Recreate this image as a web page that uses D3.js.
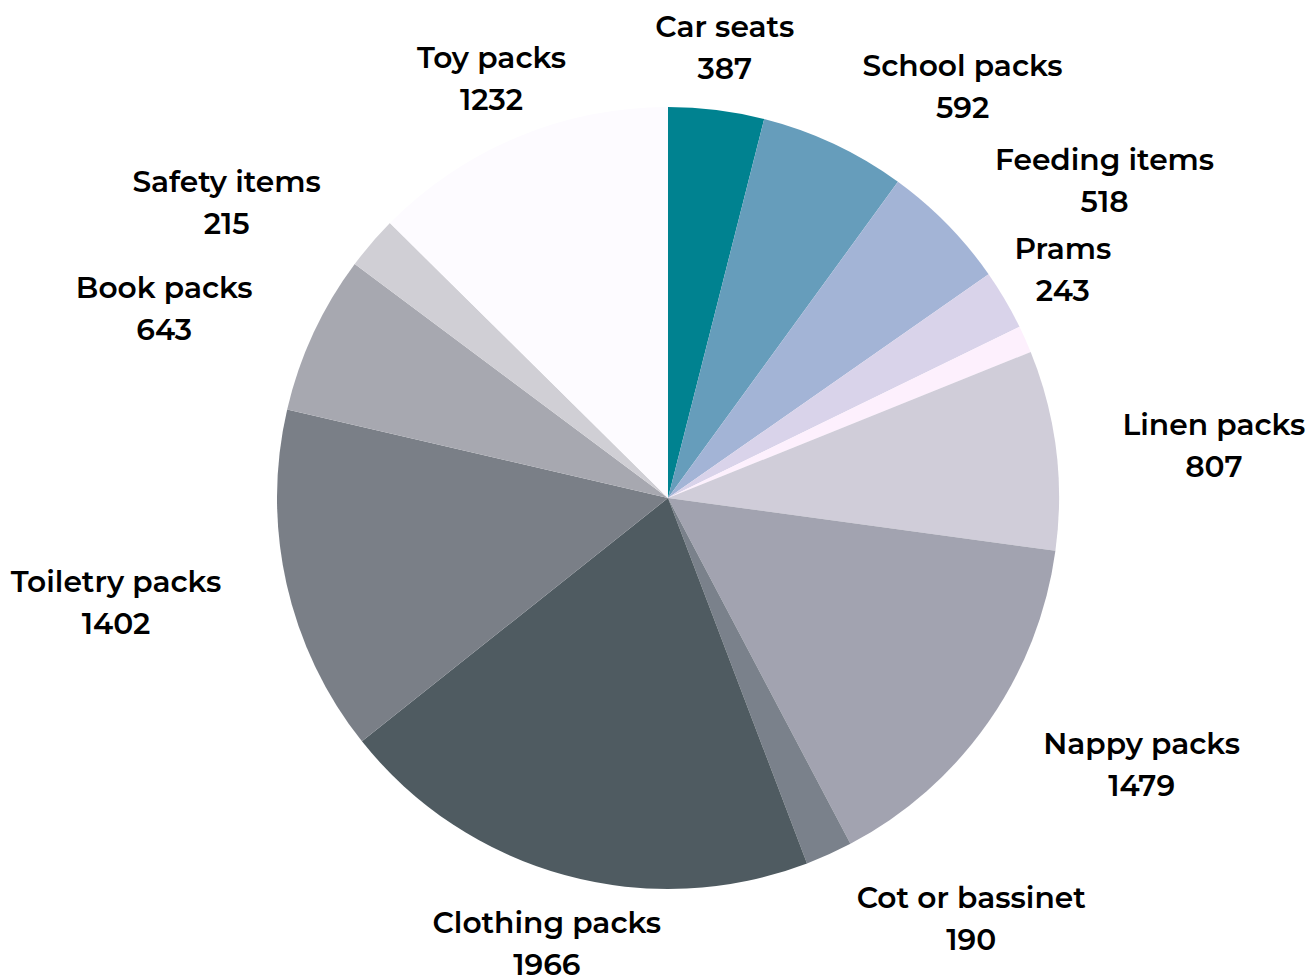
<!DOCTYPE html>
<html><head><meta charset="utf-8">
<script src="https://cdn.jsdelivr.net/npm/d3@7"></script>
<style>html,body{margin:0;padding:0;background:#fff;}</style>
</head><body>
<svg id="chart" width="1316" height="976"></svg>
<script>
const categories = ["Car seats","School packs","Feeding items","Prams","","Linen packs","Nappy packs","Cot or bassinet","Clothing packs","Toiletry packs","Book packs","Safety items","Toy packs"];
const values = [387,592,518,243,110,807,1479,190,1966,1402,643,215,1232];
const colors = ["#008290","#669dbb","#a3b4d6","#d9d3ea","#fdf0fd","#d0cdd9","#a2a3b0","#7a818b","#4f5b61","#7a7f87","#a7a8b0","#d0cfd5","#fdfbff"];
const labelAnchors = ["middle","start","start","middle","","start","start","start","middle","end","end","end","middle"];

const cx = 668, cy = 498, R = 391, L = 458;
const svg = d3.select("#chart");
const g = svg.append("g").attr("transform", `translate(${cx},${cy})`);
const data = categories.map((c,i)=>({name:c, value:values[i], color:colors[i], anchor:labelAnchors[i]}));
const pie = d3.pie().sort(null).value(d=>d.value);
const arcs = pie(data);
const arc = d3.arc().innerRadius(0).outerRadius(R);

g.selectAll("path").data(arcs).join("path")
  .attr("d", arc).attr("fill", d=>d.data.color);

const lab = g.selectAll("text.lab").data(arcs.filter(d=>d.data.name)).join("text")
  .attr("class","lab")
  .attr("font-family","Montserrat, 'Open Sans', sans-serif")
  .attr("font-weight",600)
  .attr("font-size",29.7)
  .attr("fill","#000");
lab.each(function(d){
  const a = (d.startAngle + d.endAngle)/2;
  const px = L*Math.sin(a), py = -L*Math.cos(a);
  const t = d3.select(this);
  const t1 = t.append("tspan").attr("y", py-7).text(d.data.name);
  const t2 = t.append("tspan").attr("y", py+35).text(d.data.value);
  const w1 = t1.node().getComputedTextLength();
  const w2 = t2.node().getComputedTextLength();
  const w = Math.max(w1,w2);
  let left;
  if (d.data.anchor === "start") left = px;
  else if (d.data.anchor === "end") left = px - w;
  else left = px - w/2;
  const mid = left + w/2;
  t1.attr("x", mid).attr("text-anchor","middle");
  t2.attr("x", mid).attr("text-anchor","middle");
});
</script>
</body></html>
